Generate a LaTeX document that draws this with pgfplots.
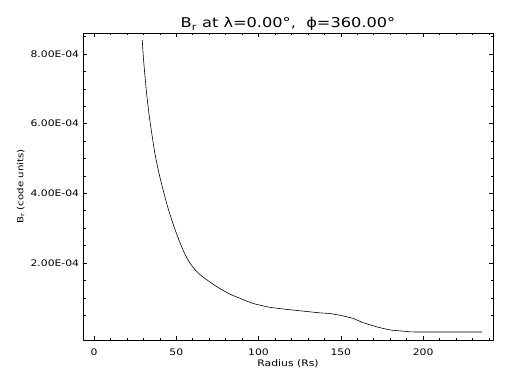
\documentclass[border=0pt]{standalone}
\usepackage{pgfplots}
\pgfplotsset{compat=1.18}
\usepackage{fontspec}
\setmainfont{DejaVu Sans}[FakeStretch=1.2]
\begin{document}
\begin{tikzpicture}
\path[use as bounding box] (0,0) rectangle (512pt,384pt);
\begin{axis}[
  at={(83pt,44pt)}, anchor=south west,
  scale only axis, width=410pt, height=307pt,
  xmin=-6.7, xmax=242.5, ymin=-0.21e-4, ymax=8.604e-4,
  xtick={0,50,100,150,200}, xticklabels={0,50,100,150,200},
  minor xtick={10,20,...,240},
  ytick={2e-4,4e-4,6e-4,8e-4},
  yticklabels={2.00E-04,4.00E-04,6.00E-04,8.00E-04},
  minor ytick={0.5e-4,1e-4,1.5e-4,2.5e-4,3e-4,3.5e-4,4.5e-4,5e-4,5.5e-4,6.5e-4,7e-4,7.5e-4,8.5e-4},
  scaled y ticks=false, scaled x ticks=false,
  /pgf/number format/assume math mode=true,
  tick align=inside, major tick length=4pt, minor tick length=2.5pt,
  every tick/.style={black, line width=0.6pt},
  axis line style={line width=0.6pt},
  ticklabel style={font=\fontsize{9}{10}\selectfont},
  xticklabel style={anchor=base, yshift=-15pt},
  yticklabel style={anchor=east, inner sep=0pt, xshift=-3.7pt},
  every axis title shift=0pt,
  title={B\textsubscript{r} at λ=0.00°, \ ϕ=360.00°},
  title style={at={(axis description cs:0.5,1.0163)}, anchor=base, yshift=0pt, inner sep=0pt, font=\fontsize{13.5}{16}\selectfont},
  xlabel={Radius (Rs)},
  xlabel style={at={(axis description cs:0.5,-0.0879)}, anchor=base, yshift=0pt, inner sep=0pt, font=\fontsize{9}{10}\selectfont},
  ylabel={B\textsubscript{r} (code units)},
  ylabel style={at={(axis description cs:-0.152,0.5)}, anchor=center, inner sep=0pt, font=\fontsize{8.5}{10}\selectfont},
]
\addplot[black, line width=0.6pt, smooth, tension=0.4] coordinates {
(29.3,8.40e-4) (30.0,7.90e-4) (31.0,7.35e-4) (32.0,6.85e-4) (33.5,6.25e-4)
(35.0,5.75e-4) (37.0,5.15e-4) (39.0,4.68e-4) (41.0,4.28e-4) (44.0,3.74e-4)
(46.0,3.42e-4) (49.1,2.98e-4) (52.1,2.60e-4) (55.1,2.27e-4) (58.0,2.02e-4)
(61.0,1.83e-4) (64.3,1.67e-4) (70.3,1.46e-4) (76.4,1.27e-4) (82.5,1.11e-4)
(88.5,0.99e-4) (96.7,0.84e-4) (106.8,0.73e-4) (117.0,0.67e-4) (127.0,0.62e-4)
(137.2,0.57e-4) (143.3,0.55e-4) (148.3,0.51e-4) (151.4,0.48e-4) (157.4,0.41e-4)
(163.5,0.29e-4) (171.7,0.17e-4) (179.8,0.08e-4) (187.8,0.045e-4) (196.0,0.02e-4)
(236.1,0.02e-4)
};
\end{axis}
\end{tikzpicture}
\end{document}
